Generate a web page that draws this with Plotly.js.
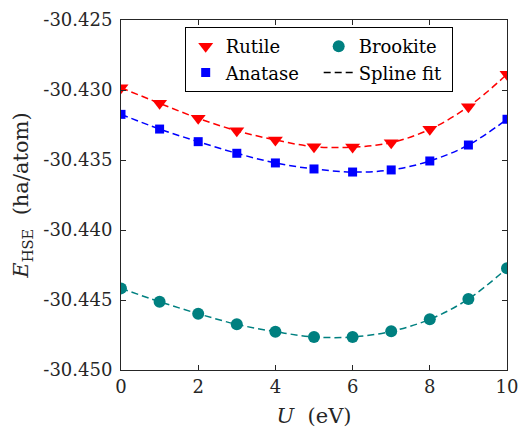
<!DOCTYPE html>
<html>
<head>
<meta charset="utf-8">
<script src="https://cdn.plot.ly/plotly-3.0.1.min.js"></script>
<style>
html,body{margin:0;padding:0;background:#fff;}
#chart{width:519px;height:435px;}
</style>
</head>
<body>
<div id="chart"></div>
<script>
const U = [0, 1, 2, 3, 4, 5, 6, 7, 8, 9, 10];
const rutile = [-30.42984, -30.43095, -30.43202, -30.43291, -30.43357, -30.43405, -30.43408, -30.43376, -30.43281, -30.43119, -30.42888];
const anatase = [-30.43174, -30.43279, -30.43369, -30.43452, -30.43521, -30.43564, -30.43586, -30.43571, -30.43507, -30.43393, -30.43209];
const brookite = [-30.44417, -30.44512, -30.44598, -30.44674, -30.44726, -30.44764, -30.44764, -30.44724, -30.44638, -30.44493, -30.44274];
const yTickVals = [-30.450, -30.445, -30.440, -30.435, -30.430, -30.425];
const yTickText = ["-30.450", "-30.445", "-30.440", "-30.435", "-30.430", "-30.425"];
const xTickVals = [0, 2, 4, 6, 8, 10];

const FONT = "DejaVu Serif";
const dash = "7px,4px";

const fit = (y, c) => ({x: U, y: y, mode: "lines", line: {color: c, width: 1.5, dash: dash, shape: "spline", smoothing: 1}, showlegend: false, hoverinfo: "skip"});

const traces = [
  fit(rutile, "#ff0000"), fit(anatase, "#0000ff"), fit(brookite, "#008080"),
  {x: U, y: rutile, name: "Rutile", mode: "markers", marker: {symbol: "triangle-down", size: 13, color: "#ff0000"}},
  {x: U, y: brookite, name: "Brookite", mode: "markers", marker: {symbol: "circle", size: 12, color: "#008080"}},
  {x: U, y: anatase, name: "Anatase", mode: "markers", marker: {symbol: "square", size: 9, color: "#0000ff"}},
  {x: [null], y: [null], name: "Spline fit", mode: "lines", line: {color: "#000000", width: 1.5, dash: dash}}
];

const layout = {
  width: 519, height: 435,
  margin: {l: 121, r: 12, t: 20, b: 65},
  paper_bgcolor: "#fff", plot_bgcolor: "#fff",
  font: {family: FONT, size: 18, color: "#262626"},
  showlegend: true,
  legend: {
    orientation: "h", x: 0.165, y: 0.98, xanchor: "left", yanchor: "top",
    bordercolor: "#000", borderwidth: 1, bgcolor: "#fff",
    entrywidth: 88, entrywidthmode: "pixels",
    font: {family: FONT, size: 18, color: "#000"},
    traceorder: "normal", itemclick: false
  },
  xaxis: {
    range: [0, 10], tickvals: xTickVals, ticktext: xTickVals.map(String),
    ticks: "inside", ticklen: 5, tickcolor: "#262626", showline: true, linecolor: "#262626", linewidth: 1,
    mirror: "ticks", showgrid: false, zeroline: false,
    title: {text: "<i>U</i>  (eV)", font: {family: FONT, size: 21, color: "#262626"}, standoff: 12}
  },
  yaxis: {
    range: [-30.450, -30.425], tickvals: yTickVals, ticktext: yTickText,
    ticks: "inside", ticklen: 5, tickcolor: "#262626", showline: true, linecolor: "#262626", linewidth: 1,
    mirror: "ticks", showgrid: false, zeroline: false, ticklabelstandoff: 4,
    title: {text: "<i>E</i><sub>HSE</sub>  (ha/atom)", font: {family: FONT, size: 21, color: "#262626"}, standoff: 8}
  }
};

Plotly.newPlot("chart", traces, layout, {staticPlot: true, displayModeBar: false});
</script>
</body>
</html>
